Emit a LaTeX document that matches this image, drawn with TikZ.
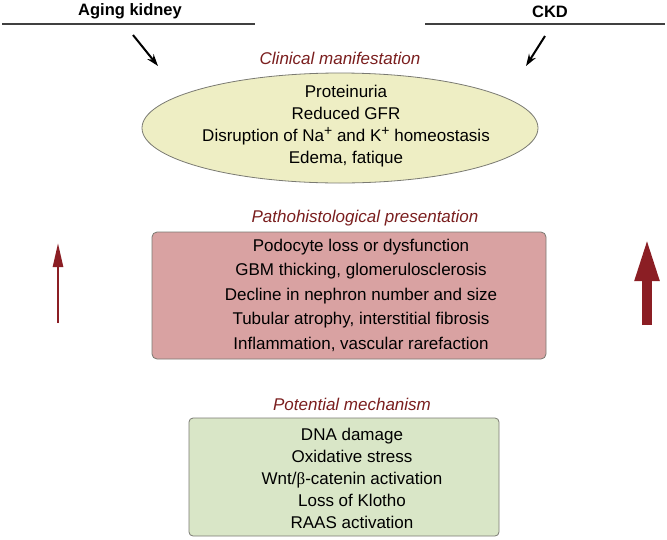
\documentclass[tikz,border=0pt]{standalone}
\usepackage{fontspec}
\setmainfont{Liberation Sans}
\newfontfamily\greekserif{Liberation Serif}
\usetikzlibrary{shapes.geometric,arrows.meta}
\definecolor{titlered}{HTML}{7A1E1E}
\definecolor{arrowred}{HTML}{8B1E24}
\definecolor{ellfill}{HTML}{EEEEC4}
\definecolor{pinkfill}{HTML}{D9A2A2}
\definecolor{greenfill}{HTML}{D9E6C7}
\definecolor{edgegray}{HTML}{7A7A72}
\newcommand{\supplus}{\raisebox{0.33em}{\fontsize{14}{14}\selectfont +}}
\begin{document}
\begin{tikzpicture}[x=1pt,y=-1pt,
  heading/.style={font=\fontsize{16.5}{20}\selectfont\bfseries, text=black, inner sep=0pt},
  sectiontitle/.style={font=\fontsize{17}{20}\selectfont\itshape, text=titlered, inner sep=0pt},
  bodytext/.style={font=\fontsize{17}{22}\selectfont, align=center, inner sep=0pt, text=black},
  topline/.style={draw=black!75, line width=1.3pt},
  blackarrow/.style={draw=black, line width=2pt, -{Stealth[length=12pt,width=8pt]}},
  boxedge/.style={draw=edgegray, line width=0.8pt}]
\useasboundingbox (0,0) rectangle (667,539);
% headings
\node[heading] (aging) at (130,11) {Aging kidney};
\node[heading] (ckd) at (550,12) {CKD};
\coordinate (l1a) at (2,24); \coordinate (l1b) at (255,24);
\coordinate (l2a) at (425,24); \coordinate (l2b) at (665,24);
\draw[topline] (l1a) -- (l1b);
\draw[topline] (l2a) -- (l2b);
\coordinate (a1s) at (133,35); \coordinate (a1e) at (158,66);
\coordinate (a2s) at (545,36); \coordinate (a2e) at (526,66);
\draw[blackarrow] (a1s) -- (a1e);
\draw[blackarrow] (a2s) -- (a2e);
% clinical manifestation
\node[sectiontitle] (t1) at (340,58) {Clinical manifestation};
\node[ellipse, boxedge, fill=ellfill, minimum width=396pt, minimum height=110pt] (ell) at (340,128) {};
\node[bodytext] (ellt) at (346,126) {Proteinuria\\Reduced GFR\\Disruption of Na\supplus{} and K\supplus{} homeostasis\\Edema, fatique};
% pathohistological
\node[sectiontitle] (t2) at (365,218) {Pathohistological presentation};
\node[rectangle, rounded corners=5pt, boxedge, fill=pinkfill, minimum width=394pt, minimum height=127pt] (pink) at (349,295.5) {};
\node[bodytext, font=\fontsize{17}{24.5}\selectfont] (pinkt) at (361,295) {Podocyte loss or dysfunction\\GBM thicking, glomerulosclerosis\\Decline in nephron number and size\\Tubular atrophy, interstitial fibrosis\\Inflammation, vascular rarefaction};
% potential mechanism
\node[sectiontitle] (t3) at (352,404) {Potential mechanism};
\node[rectangle, rounded corners=4pt, boxedge, fill=greenfill, minimum width=310pt, minimum height=118pt] (green) at (344,477) {};
\node[bodytext] (greent) at (352,478) {DNA damage\\Oxidative stress\\Wnt/{\greekserif β}-catenin activation\\Loss of Klotho\\RAAS activation};
% red arrows
\coordinate (r1s) at (58,323); \coordinate (r1e) at (58,243);
\draw[draw=arrowred, fill=arrowred, line width=2.5pt, -{Triangle[length=24pt,width=10pt]}] (r1s) -- (r1e);
\coordinate (r2s) at (647,325); \coordinate (r2e) at (647,237);
\draw[draw=arrowred, fill=arrowred, line width=10pt, -{Triangle[length=44pt,width=22pt]}] (r2s) -- (r2e);
\end{tikzpicture}
\end{document}
